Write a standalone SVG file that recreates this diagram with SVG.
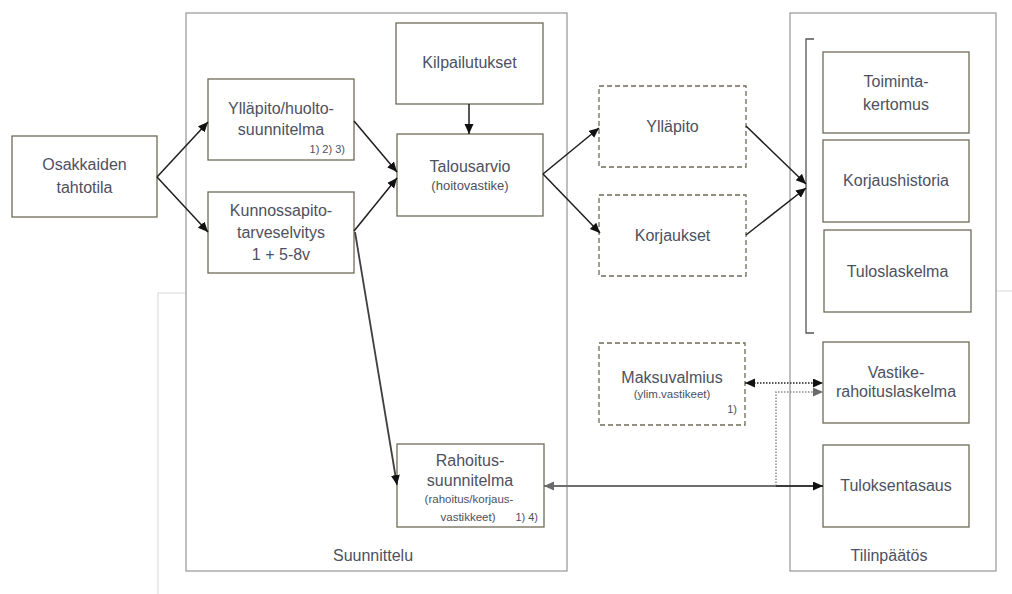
<svg xmlns="http://www.w3.org/2000/svg" width="1012" height="594" viewBox="0 0 1012 594">
<style>
text{font-family:"Liberation Sans",Arial,sans-serif;fill:#4e5061;text-anchor:middle}
.t{font-size:16px}
.s{font-size:13px}
.xs{font-size:11.5px}
.n{font-size:11px;text-anchor:end}
.box{fill:#fff;stroke:#6f6a58;stroke-width:1.3}
.dash{fill:#fff;stroke:#6f6a58;stroke-width:1.3;stroke-dasharray:5,3}
.cont{fill:none;stroke:#9d9d9d;stroke-width:1.3}
.faint{fill:none;stroke:#dcdcdc;stroke-width:1.2}
.c{fill:none;stroke:#1e1e1e;stroke-width:1.5}
</style>
<defs>
<marker id="ah" markerUnits="userSpaceOnUse" markerWidth="11" markerHeight="10" refX="10" refY="4.5" orient="auto-start-reverse"><path d="M0,0 L10,4.5 L0,9 z" fill="#111"/></marker>
<marker id="ahg" markerUnits="userSpaceOnUse" markerWidth="11" markerHeight="10" refX="10" refY="4.5" orient="auto-start-reverse"><path d="M0,0 L10,4.5 L0,9 z" fill="#6a6a6a"/></marker>
</defs>
<rect width="1012" height="594" fill="#fff"/>
<path class="faint" d="M158,594 V293 H186 M996,291 H1012"/>
<g id="suunnittelu">
<rect class="cont" x="186" y="13" width="381" height="558"/>
<text class="t" x="373" y="561">Suunnittelu</text>
</g>
<g id="tilinpaatos">
<rect class="cont" x="790" y="13" width="206" height="558"/>
<text class="t" x="889" y="561">Tilinpäätös</text>
<path d="M814,39 H806 V333 H814" fill="none" stroke="#555" stroke-width="1.3"/>
</g>
<g id="osakkaiden">
<rect class="box" x="12" y="136" width="145" height="81"/>
<text class="t" x="84.5" y="170">Osakkaiden</text>
<text class="t" x="84.5" y="193">tahtotila</text>
</g>
<g id="yllapito-huolto">
<rect class="box" x="208" y="79" width="146" height="81"/>
<text class="t" x="281" y="114">Ylläpito/huolto-</text>
<text class="t" x="281" y="135">suunnitelma</text>
<text class="n" x="345" y="153">1) 2) 3)</text>
</g>
<g id="kunnossapito">
<rect class="box" x="208" y="192" width="146" height="81"/>
<text class="t" x="281" y="216">Kunnossapito-</text>
<text class="t" x="281" y="238">tarveselvitys</text>
<text class="t" x="281" y="260">1 + 5-8v</text>
</g>
<g id="kilpailutukset">
<rect class="box" x="396" y="23" width="147" height="81"/>
<text class="t" x="469.5" y="68">Kilpailutukset</text>
</g>
<g id="talousarvio">
<rect class="box" x="397" y="134" width="146" height="82"/>
<text class="t" x="470" y="172">Talousarvio</text>
<text class="s" x="470" y="190">(hoitovastike)</text>
</g>
<g id="rahoitus">
<rect class="box" x="397" y="444" width="147" height="83"/>
<text class="t" x="470" y="466">Rahoitus-</text>
<text class="t" x="470" y="486">suunnitelma</text>
<text class="xs" x="469" y="503">(rahoitus/korjaus-</text>
<text class="xs" x="468" y="521">vastikkeet)</text>
<text class="n" x="538" y="521">1) 4)</text>
</g>
<g id="yllapito">
<rect class="dash" x="599" y="86" width="147" height="81"/>
<text class="t" x="672.5" y="132">Ylläpito</text>
</g>
<g id="korjaukset">
<rect class="dash" x="599" y="195" width="147" height="81"/>
<text class="t" x="672.5" y="241">Korjaukset</text>
</g>
<g id="maksuvalmius">
<rect class="dash" x="599" y="343" width="146" height="82"/>
<text class="t" x="672" y="383">Maksuvalmius</text>
<text class="xs" x="672" y="398">(ylim.vastikeet)</text>
<text class="n" x="737" y="413">1)</text>
</g>
<g id="toimintakertomus">
<rect class="box" x="823" y="52" width="146" height="81"/>
<text class="t" x="896" y="87">Toiminta-</text>
<text class="t" x="896" y="110">kertomus</text>
</g>
<g id="korjaushistoria">
<rect class="box" x="823" y="140" width="146" height="82"/>
<text class="t" x="896" y="186">Korjaushistoria</text>
</g>
<g id="tuloslaskelma">
<rect class="box" x="824" y="230" width="147" height="82"/>
<text class="t" x="897.5" y="277">Tuloslaskelma</text>
</g>
<g id="vastike">
<rect class="box" x="823" y="342" width="146" height="81"/>
<text class="t" x="896" y="378">Vastike-</text>
<text class="t" x="896" y="397">rahoituslaskelma</text>
</g>
<g id="tuloksentasaus">
<rect class="box" x="823" y="445" width="146" height="82"/>
<text class="t" x="896" y="491">Tuloksentasaus</text>
</g>
<g id="connectors">
<path class="c" d="M157,177 L208,122" marker-end="url(#ah)"/>
<path class="c" d="M157,177 L208,232" marker-end="url(#ah)"/>
<path class="c" d="M354,121 L397,172" marker-end="url(#ah)"/>
<path class="c" d="M354,231 L397,178" marker-end="url(#ah)"/>
<path class="c" d="M469,104 L469,134" marker-end="url(#ah)"/>
<path class="c" d="M543,174 L599,128" marker-end="url(#ah)"/>
<path class="c" d="M543,174 L600,233" marker-end="url(#ah)"/>
<path class="c" d="M746,126 L806,184" marker-end="url(#ah)"/>
<path class="c" d="M746,235 L806,188" marker-end="url(#ah)"/>
<path d="M355,232 L397,485" fill="none" stroke="#3f3f3f" stroke-width="1.8" marker-end="url(#ah)"/>
<path d="M745,383 H823" fill="none" stroke="#222" stroke-width="1.5" stroke-dasharray="1.5,1.5" marker-start="url(#ah)" marker-end="url(#ah)"/>
<path d="M776,486 V392 H823" fill="none" stroke="#8a8a8a" stroke-width="1.5" stroke-dasharray="1.5,1.5" marker-end="url(#ahg)"/>
<path d="M544,486 H776" fill="none" stroke="#6e6e6e" stroke-width="2" marker-start="url(#ahg)"/>
<path d="M776,486 H823" fill="none" stroke="#3a3a3a" stroke-width="2" marker-end="url(#ah)"/>
</g>
</svg>
